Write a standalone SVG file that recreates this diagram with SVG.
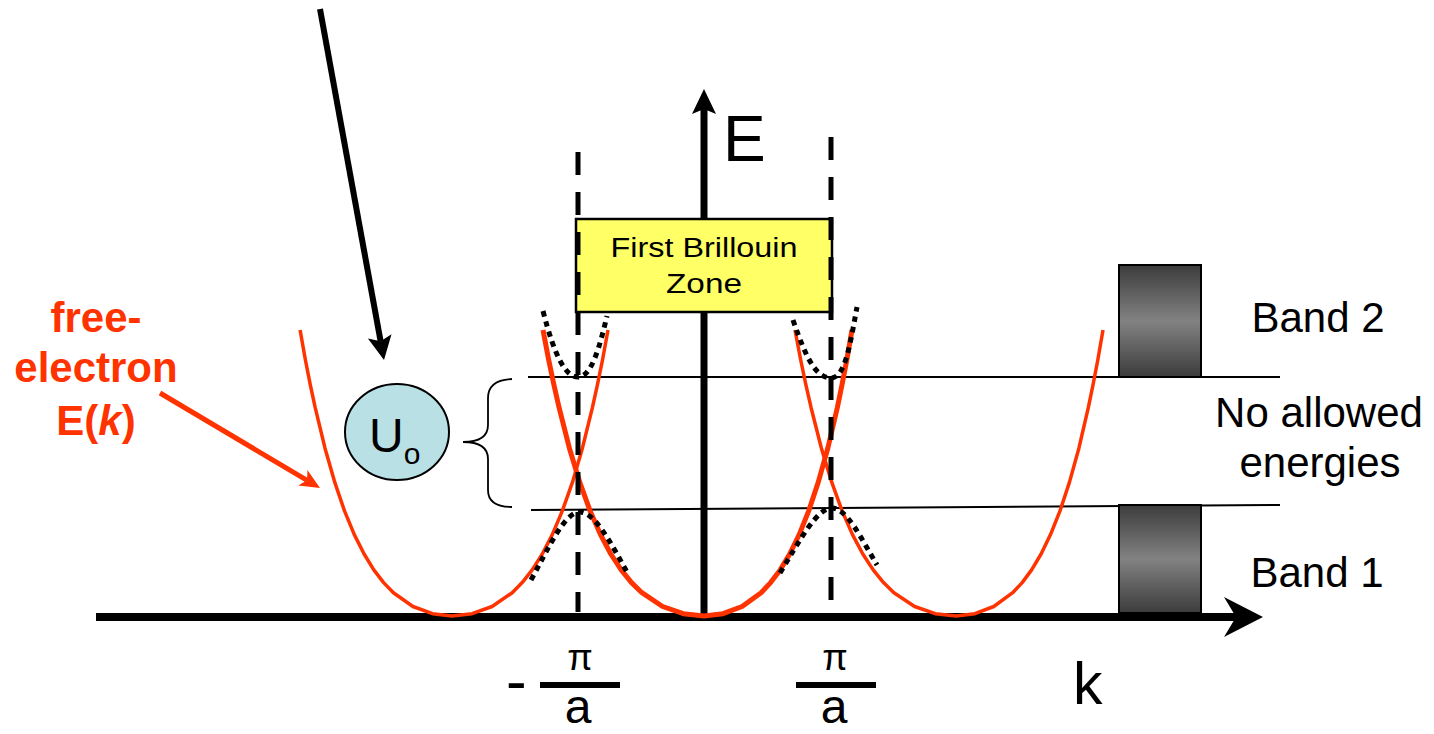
<svg xmlns="http://www.w3.org/2000/svg" width="1434" height="734" viewBox="0 0 1434 734">
<defs>
<linearGradient id="barGrad" x1="0" y1="0" x2="0" y2="1">
<stop offset="0" stop-color="#3c3c3c"/>
<stop offset="0.5" stop-color="#828282"/>
<stop offset="1" stop-color="#3c3c3c"/>
</linearGradient>
<style>
.lbl{font-family:"Liberation Sans",Arial,sans-serif;fill:#000}
.red{font-family:"Liberation Sans",Arial,sans-serif;font-weight:bold;fill:#FF3300}
.band{stroke:#000;stroke-width:2;fill:none}
.dash{stroke:#000;stroke-width:5;stroke-dasharray:23 17;fill:none}
.dot{stroke:#000;stroke-width:5;stroke-dasharray:5.5 5;fill:none}
.pc{stroke:#FF3300;stroke-width:5;fill:none;stroke-linejoin:round;stroke-linecap:butt}
.po{stroke:#FF3300;stroke-width:3.5;fill:none;stroke-linejoin:round;stroke-linecap:butt}
.frac{stroke:#000;stroke-width:6}
.bar{fill:url(#barGrad);stroke:#000;stroke-width:2}
</style>
</defs>
<rect width="1434" height="734" fill="#fff"/>

<g id="band-edges">
<line class="band" x1="528" y1="377" x2="1280" y2="377"/>
<line class="band" x1="531" y1="510" x2="1280" y2="505"/>
</g>

<g id="axes">
<line x1="96" y1="617" x2="1238" y2="617" stroke="#000" stroke-width="8"/>
<polygon points="1263,617 1224,597 1236,617 1224,637" fill="#000"/>
<line x1="704" y1="617" x2="704" y2="108" stroke="#000" stroke-width="7"/>
<polygon points="704,89 716,114 704,109 692,114" fill="#000"/>
</g>

<g id="free-electron-curves">
<polyline class="po" points="300.1,330 305.4,360 310.3,384.8 315.2,407.7 325.0,448.2 334.8,482.4 344.5,510.9 354.3,534.6 364.1,554 373.8,569.9 383.6,582.6 393.4,592.7 412.9,606.5 432.5,613.7 452,616 472.1,613.7 492.1,606.5 512.2,592.7 522.2,582.6 532.2,569.9 542.3,554 552.3,534.6 562.3,510.9 572.4,482.4 582.4,448.2 592.4,407.7 597.4,384.8 602.5,360 608,330"/>
<polyline class="po" points="795,330 800.7,360 805.9,384.8 811.1,407.7 821.4,448.2 831.8,482.4 842.1,510.9 852.5,534.6 862.8,554 873.2,569.9 883.5,582.6 893.9,592.7 914.6,606.5 935.3,613.7 956,616 974.9,613.7 993.8,606.5 1012.7,592.7 1022.2,582.6 1031.6,569.9 1041.1,554 1050.5,534.6 1060,510.9 1069.4,482.4 1078.9,448.2 1088.3,407.7 1093,384.8 1097.8,360 1103,330"/>
<polyline class="pc" points="543,330 548.7,360 553.9,384.8 559.1,407.7 569.4,448.2 579.8,482.4 590.1,510.9 600.5,534.6 610.8,554 621.2,569.9 631.5,582.6 641.9,592.7 662.6,606.5 683.3,613.7 704,616 723,613.7 742.1,606.5 761.1,592.7 770.6,582.6 780.2,569.9 789.7,554 799.2,534.6 808.7,510.9 818.2,482.4 827.8,448.2 837.3,407.7 842,384.8 846.8,360 852,330"/>
</g>

<g id="zone-box">
<rect x="576" y="219" width="256" height="93" fill="#FFFF66" stroke="#000" stroke-width="2.5"/>
<text class="lbl" x="704" y="257" font-size="27" text-anchor="middle" textLength="187" lengthAdjust="spacingAndGlyphs">First Brillouin</text>
<text class="lbl" x="704" y="293" font-size="27" text-anchor="middle" textLength="76" lengthAdjust="spacingAndGlyphs">Zone</text>
</g>

<g id="zone-boundaries">
<line class="dash" x1="578" y1="152" x2="578" y2="612"/>
<line class="dash" x1="831" y1="137" x2="831" y2="612"/>
</g>

<g id="nearly-free-bands">
<path class="dot" d="M543,311 C555,358 566,377 578,377 C592,377 600,345 607,316"/>
<path class="dot" d="M531,580 C550,545 565,512 580,512 C595,512 612,545 628,574"/>
<path class="dot" d="M793,320 C805,355 815,378 831,378 C845,378 850,345 857,307"/>
<path class="dot" d="M780,573 C800,540 817,508 832,508 C847,508 862,540 877,565"/>
</g>

<g id="band-bars">
<rect class="bar" x="1119" y="265" width="82" height="112"/>
<rect class="bar" x="1119" y="505" width="82" height="108"/>
</g>

<g id="connectors">
<line x1="320" y1="9" x2="380.6" y2="341.3" stroke="#000" stroke-width="6"/>
<polygon points="384,360 391.5,334.3 380.6,341.3 367.9,338.5" fill="#000"/>
<line x1="160" y1="393" x2="307.1" y2="480.3" stroke="#FF3300" stroke-width="5"/>
<polygon points="320,488 307.4,470.1 307.1,480.3 298.2,485.5" fill="#FF3300"/>
<path d="M512,379 Q488,380 488,398 L488,425 Q488,442 463,442 Q488,442 488,459 L488,490 Q488,507 512,507" fill="none" stroke="#000" stroke-width="1.8"/>
</g>

<g id="U0">
<ellipse cx="397" cy="432" rx="52" ry="48" fill="#B9E0E5" stroke="#000" stroke-width="2"/>
<text class="lbl" x="369" y="452" font-size="48">U<tspan font-size="30" dy="12">o</tspan></text>
</g>

<g id="free-electron-label">
<text class="red" x="96" y="332" font-size="42" text-anchor="middle">free-</text>
<text class="red" x="96" y="382" font-size="42" text-anchor="middle">electron</text>
<text class="red" x="96" y="435" font-size="42" text-anchor="middle">E(<tspan font-style="italic">k</tspan>)</text>
</g>

<g id="band-labels">
<text class="lbl" x="1318" y="332" font-size="42" text-anchor="middle">Band 2</text>
<text class="lbl" x="1319" y="427" font-size="42" text-anchor="middle">No allowed</text>
<text class="lbl" x="1320" y="477" font-size="42" text-anchor="middle">energies</text>
<text class="lbl" x="1317" y="587" font-size="42" text-anchor="middle">Band 1</text>
</g>

<g id="axis-labels">
<text class="lbl" x="723" y="161" font-size="64">E</text>
<text class="lbl" x="1073" y="704" font-size="59">k</text>
<text class="lbl" x="506" y="702" font-size="62">-</text>
<text class="lbl" x="580" y="670" font-size="37" text-anchor="middle">π</text>
<line class="frac" x1="540" y1="685" x2="620" y2="685"/>
<text class="lbl" x="578" y="723" font-size="48" text-anchor="middle">a</text>
<text class="lbl" x="835" y="670" font-size="37" text-anchor="middle">π</text>
<line class="frac" x1="796" y1="685" x2="876" y2="685"/>
<text class="lbl" x="834" y="723" font-size="48" text-anchor="middle">a</text>
</g>
</svg>
